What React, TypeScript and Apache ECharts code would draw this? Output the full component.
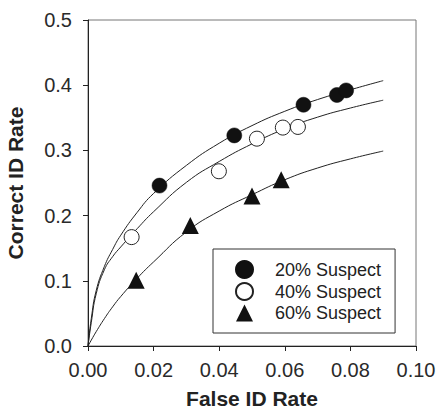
import React, { useEffect, useRef } from "react";
import * as echarts from "echarts";

// Observed points (False ID rate, Correct ID rate)
const suspect20: number[][] = [
  [0.0218, 0.246], [0.0446, 0.323], [0.0657, 0.37], [0.0759, 0.385], [0.0787, 0.392],
];
const suspect40: number[][] = [
  [0.0133, 0.167], [0.0399, 0.268], [0.0515, 0.318], [0.0594, 0.335], [0.064, 0.336],
];
const suspect60: number[][] = [
  [0.0147, 0.101], [0.0312, 0.185], [0.05, 0.23], [0.0589, 0.255],
];

// Fitted curves, values
const curveX: number[] = [0, 0.001, 0.0025, 0.005, 0.0075, 0.01, 0.015, 0.02, 0.03, 0.04, 0.05, 0.06, 0.07, 0.08, 0.09];
const curve20Y: number[] = [0, 0.042, 0.085, 0.122, 0.148, 0.17, 0.205, 0.234, 0.277, 0.311, 0.338, 0.36, 0.378, 0.393, 0.407];
const curve40Y: number[] = [0, 0.036, 0.08, 0.117, 0.137, 0.152, 0.18, 0.206, 0.251, 0.283, 0.31, 0.333, 0.351, 0.365, 0.377];
const curve60Y: number[] = [0, 0.009, 0.022, 0.042, 0.06, 0.076, 0.104, 0.129, 0.175, 0.207, 0.232, 0.255, 0.273, 0.287, 0.299];

const seriesNames = ["20% Suspect", "40% Suspect", "60% Suspect"];

const FONT = "Liberation Sans, Arial, sans-serif";

export default function App() {
  const ref = useRef<HTMLDivElement>(null);
  useEffect(() => {
    if (!ref.current) return;
    const chart = echarts.init(ref.current, undefined, { renderer: "svg" });
    const curveStyle = { color: "#222", width: 1 };
    const curve = (ys: number[]) => ({
      type: "line",
      data: curveX.map((x, i) => [x, ys[i]]),
      showSymbol: false,
      symbol: "none",
      smooth: 0.5,
      lineStyle: curveStyle,
      silent: true,
      z: 1,
    });
    chart.setOption({
      animation: false,
      backgroundColor: "#ffffff",
      grid: {
        left: 88,
        right: 21,
        top: 20,
        bottom: 65,
        show: true,
        borderColor: "#777",
        borderWidth: 1,
        backgroundColor: "transparent",
        outerBoundsMode: "none",
        containLabel: false,
      },
      xAxis: {
        type: "value",
        min: 0,
        max: 0.1,
        interval: 0.02,
        name: "False ID Rate",
        nameLocation: "middle",
        nameGap: 42,
        nameTextStyle: { fontFamily: FONT, fontSize: 21, lineHeight: 21, fontWeight: "bold", color: "#222" },
        axisLine: { show: true, onZero: false, lineStyle: { color: "#222", width: 1 } },
        axisTick: { show: true, length: 5, lineStyle: { color: "#222" } },
        axisLabel: {
          margin: 14,
          fontFamily: FONT,
          fontSize: 20,
          color: "#2a2a2a",
          formatter: (v: number) => v.toFixed(2),
        },
        splitLine: { show: false },
      },
      yAxis: {
        type: "value",
        min: 0,
        max: 0.5,
        interval: 0.1,
        name: "Correct ID Rate",
        nameLocation: "middle",
        nameGap: 62,
        nameTextStyle: { fontFamily: FONT, fontSize: 21, lineHeight: 21, fontWeight: "bold", color: "#222" },
        axisLine: { show: true, onZero: false, lineStyle: { color: "#222", width: 1 } },
        axisTick: { show: true, length: 5, lineStyle: { color: "#222" } },
        axisLabel: {
          margin: 16,
          fontFamily: FONT,
          fontSize: 20,
          color: "#2a2a2a",
          formatter: (v: number) => v.toFixed(1),
        },
        splitLine: { show: false },
      },
      legend: {
        orient: "vertical",
        left: 213,
        top: 249,
        padding: [11, 14, 11, 22],
        itemGap: 3,
        itemWidth: 17,
        itemHeight: 17,
        borderColor: "#333",
        borderWidth: 1,
        backgroundColor: "#fff",
        textStyle: { fontFamily: FONT, fontSize: 18, color: "#222", padding: [0, 0, 0, 17] },
        data: [
          { name: seriesNames[0], icon: "circle" },
          { name: seriesNames[1], icon: "circle" },
          { name: seriesNames[2], icon: "triangle" },
        ],
      },
      series: [
        curve(curve20Y),
        curve(curve40Y),
        curve(curve60Y),
        {
          name: seriesNames[0],
          type: "scatter",
          data: suspect20,
          symbol: "circle",
          symbolSize: 15,
          itemStyle: { color: "#111", borderColor: "#111", borderWidth: 0.5, opacity: 1 },
          z: 3,
        },
        {
          name: seriesNames[1],
          type: "scatter",
          data: suspect40,
          symbol: "circle",
          symbolSize: 15,
          itemStyle: { color: "#fff", borderColor: "#222", borderWidth: 1, opacity: 1 },
          z: 3,
        },
        {
          name: seriesNames[2],
          type: "scatter",
          data: suspect60,
          symbol: "triangle",
          symbolSize: 17,
          itemStyle: { color: "#111", opacity: 1 },
          z: 3,
        },
      ],
    });
    return () => chart.dispose();
  }, []);
  return (
    <div
      ref={ref}
      style={{ position: "fixed", left: 0, top: 0, width: 437, height: 411 }}
    />
  );
}
